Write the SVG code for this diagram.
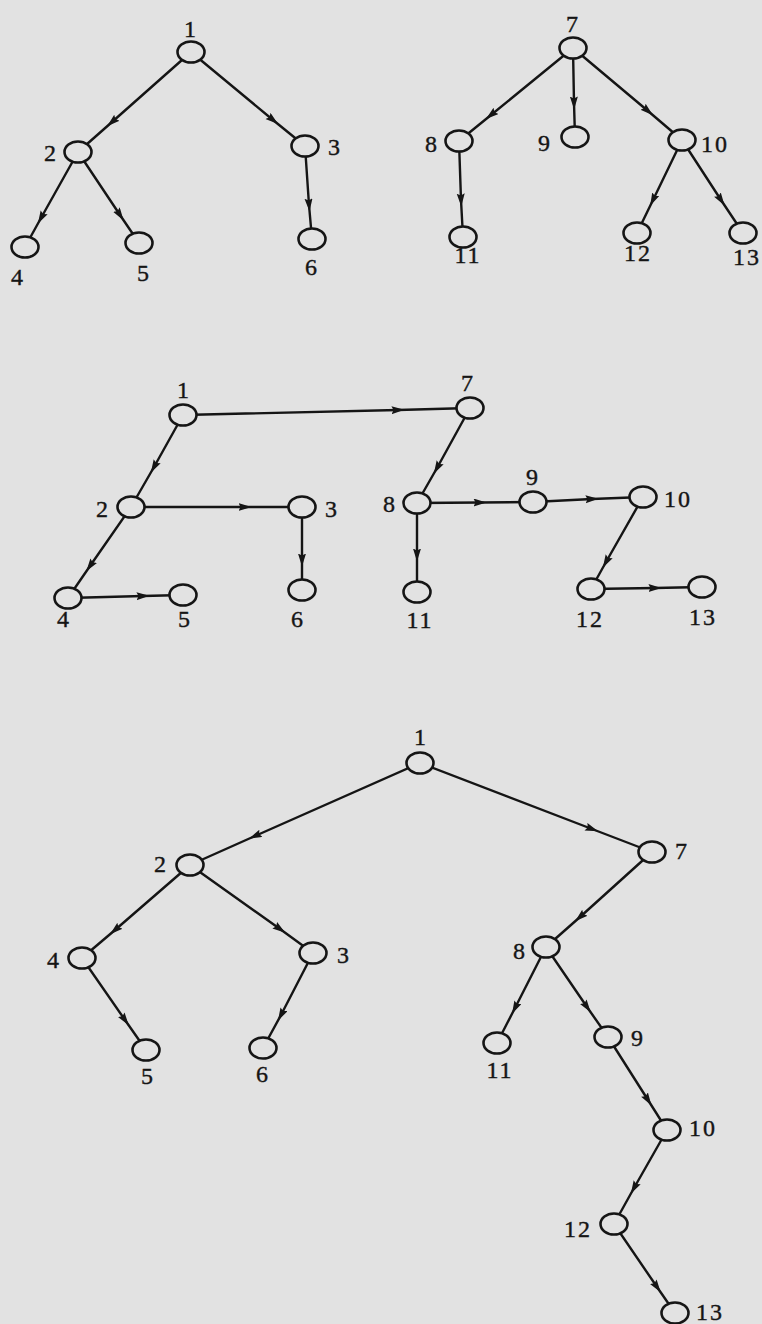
<svg xmlns="http://www.w3.org/2000/svg" width="762" height="1324" viewBox="0 0 762 1324">
<style>
.bg{fill:#e2e2e2}
.e{fill:none;stroke:#151515;stroke-width:2.4;marker-mid:url(#arr)}
.n{fill:#e2e2e2;stroke:#151515;stroke-width:2.6}
text{font-family:"Liberation Serif","Times New Roman",serif;font-size:24px;fill:#151515;stroke:#151515;stroke-width:0.4;text-anchor:middle}
.w{letter-spacing:2px}
</style>
<defs>
<marker id="arr" markerUnits="userSpaceOnUse" markerWidth="16" markerHeight="10" refX="6.5" refY="4" orient="auto">
<path d="M0,0 L13,4 L0,8 L2,4 Z" fill="#151515"/>
</marker>
</defs>
<rect class="bg" x="0" y="0" width="762" height="1324"/>
<g id="connectors">
<path class="e" d="M191,52 L112,122 L78,152"/>
<path class="e" d="M191,52 L273,120 L305,146"/>
<path class="e" d="M78,152 L41,218 L25,247"/>
<path class="e" d="M78,152 L120,215 L139,243"/>
<path class="e" d="M305,146 L309,205 L312,239"/>
<path class="e" d="M573,48 L491,115 L459,141"/>
<path class="e" d="M573,48 L574,103 L575,137"/>
<path class="e" d="M573,48 L648,111 L682,140"/>
<path class="e" d="M459,141 L461,200 L463,237"/>
<path class="e" d="M682,140 L653,200 L637,233"/>
<path class="e" d="M682,140 L721,200 L743,233"/>
<path class="e" d="M183,415 L398,410 L470,408"/>
<path class="e" d="M183,415 L154,467 L131,507"/>
<path class="e" d="M131,507 L245,507 L302,507"/>
<path class="e" d="M131,507 L90,566 L68,598"/>
<path class="e" d="M68,598 L143,596 L183,595"/>
<path class="e" d="M302,507 L302,560 L302,590"/>
<path class="e" d="M470,408 L437,468 L417,503"/>
<path class="e" d="M417,503 L480,502.5 L533,502"/>
<path class="e" d="M533,502 L592,499 L643,497"/>
<path class="e" d="M417,503 L417,555 L417,592"/>
<path class="e" d="M643,497 L606,562 L591,589"/>
<path class="e" d="M591,589 L655,588 L702,587"/>
<path class="e" d="M420,763 L255,836 L190,865"/>
<path class="e" d="M420,763 L592,829 L652,852"/>
<path class="e" d="M190,865 L115,930 L82,958"/>
<path class="e" d="M190,865 L280,929 L313,953"/>
<path class="e" d="M82,958 L125,1020 L146,1050"/>
<path class="e" d="M313,953 L281,1015 L263,1048"/>
<path class="e" d="M652,852 L580,917 L546,947"/>
<path class="e" d="M546,947 L515,1008 L497,1043"/>
<path class="e" d="M546,947 L587,1007 L608,1037"/>
<path class="e" d="M608,1037 L648,1100 L667,1130"/>
<path class="e" d="M667,1130 L634,1188 L614,1224"/>
<path class="e" d="M614,1224 L657,1287 L675,1313"/>
</g>
<g id="a1"><ellipse class="n" cx="191" cy="52" rx="13.5" ry="10.5"/><text x="190" y="37">1</text></g>
<g id="a2"><ellipse class="n" cx="78" cy="152" rx="13.5" ry="10.5"/><text x="50" y="161">2</text></g>
<g id="a3"><ellipse class="n" cx="305" cy="146" rx="13.5" ry="10.5"/><text x="334" y="155">3</text></g>
<g id="a4"><ellipse class="n" cx="25" cy="247" rx="13.5" ry="10.5"/><text x="17" y="285">4</text></g>
<g id="a5"><ellipse class="n" cx="139" cy="243" rx="13.5" ry="10.5"/><text x="143" y="281">5</text></g>
<g id="a6"><ellipse class="n" cx="312" cy="239" rx="13.5" ry="10.5"/><text x="311" y="275">6</text></g>
<g id="a7"><ellipse class="n" cx="573" cy="48" rx="13.5" ry="10.5"/><text x="572" y="32">7</text></g>
<g id="a8"><ellipse class="n" cx="459" cy="141" rx="13.5" ry="10.5"/><text x="431" y="152">8</text></g>
<g id="a9"><ellipse class="n" cx="575" cy="137" rx="13.5" ry="10.5"/><text x="544" y="151">9</text></g>
<g id="a10"><ellipse class="n" cx="682" cy="140" rx="13.5" ry="10.5"/><text class="w" x="715" y="152">10</text></g>
<g id="a11"><ellipse class="n" cx="463" cy="237" rx="13.5" ry="10.5"/><text class="w" x="468" y="263">11</text></g>
<g id="a12"><ellipse class="n" cx="637" cy="233" rx="13.5" ry="10.5"/><text class="w" x="638" y="261">12</text></g>
<g id="a13"><ellipse class="n" cx="743" cy="233" rx="13.5" ry="10.5"/><text class="w" x="747" y="265">13</text></g>
<g id="b1"><ellipse class="n" cx="183" cy="415" rx="13.5" ry="10.5"/><text x="183" y="398">1</text></g>
<g id="b2"><ellipse class="n" cx="131" cy="507" rx="13.5" ry="10.5"/><text x="102" y="517">2</text></g>
<g id="b3"><ellipse class="n" cx="302" cy="507" rx="13.5" ry="10.5"/><text x="331" y="517">3</text></g>
<g id="b4"><ellipse class="n" cx="68" cy="598" rx="13.5" ry="10.5"/><text x="63" y="627">4</text></g>
<g id="b5"><ellipse class="n" cx="183" cy="595" rx="13.5" ry="10.5"/><text x="184" y="627">5</text></g>
<g id="b6"><ellipse class="n" cx="302" cy="590" rx="13.5" ry="10.5"/><text x="297" y="627">6</text></g>
<g id="b7"><ellipse class="n" cx="470" cy="408" rx="13.5" ry="10.5"/><text x="467" y="391">7</text></g>
<g id="b8"><ellipse class="n" cx="417" cy="503" rx="13.5" ry="10.5"/><text x="389" y="512">8</text></g>
<g id="b9"><ellipse class="n" cx="533" cy="502" rx="13.5" ry="10.5"/><text x="532" y="485">9</text></g>
<g id="b10"><ellipse class="n" cx="643" cy="497" rx="13.5" ry="10.5"/><text class="w" x="678" y="507">10</text></g>
<g id="b11"><ellipse class="n" cx="417" cy="592" rx="13.5" ry="10.5"/><text class="w" x="420" y="628">11</text></g>
<g id="b12"><ellipse class="n" cx="591" cy="589" rx="13.5" ry="10.5"/><text class="w" x="590" y="627">12</text></g>
<g id="b13"><ellipse class="n" cx="702" cy="587" rx="13.5" ry="10.5"/><text class="w" x="703" y="625">13</text></g>
<g id="c1"><ellipse class="n" cx="420" cy="763" rx="13.5" ry="10.5"/><text x="420" y="745">1</text></g>
<g id="c2"><ellipse class="n" cx="190" cy="865" rx="13.5" ry="10.5"/><text x="160" y="872">2</text></g>
<g id="c3"><ellipse class="n" cx="313" cy="953" rx="13.5" ry="10.5"/><text x="343" y="963">3</text></g>
<g id="c4"><ellipse class="n" cx="82" cy="958" rx="13.5" ry="10.5"/><text x="53" y="968">4</text></g>
<g id="c5"><ellipse class="n" cx="146" cy="1050" rx="13.5" ry="10.5"/><text x="147" y="1084">5</text></g>
<g id="c6"><ellipse class="n" cx="263" cy="1048" rx="13.5" ry="10.5"/><text x="262" y="1082">6</text></g>
<g id="c7"><ellipse class="n" cx="652" cy="852" rx="13.5" ry="10.5"/><text x="681" y="859">7</text></g>
<g id="c8"><ellipse class="n" cx="546" cy="947" rx="13.5" ry="10.5"/><text x="519" y="959">8</text></g>
<g id="c9"><ellipse class="n" cx="608" cy="1037" rx="13.5" ry="10.5"/><text x="637" y="1046">9</text></g>
<g id="c10"><ellipse class="n" cx="667" cy="1130" rx="13.5" ry="10.5"/><text class="w" x="703" y="1136">10</text></g>
<g id="c11"><ellipse class="n" cx="497" cy="1043" rx="13.5" ry="10.5"/><text class="w" x="500" y="1078">11</text></g>
<g id="c12"><ellipse class="n" cx="614" cy="1224" rx="13.5" ry="10.5"/><text class="w" x="578" y="1237">12</text></g>
<g id="c13"><ellipse class="n" cx="675" cy="1313" rx="13.5" ry="10.5"/><text class="w" x="710" y="1320">13</text></g>
</svg>
